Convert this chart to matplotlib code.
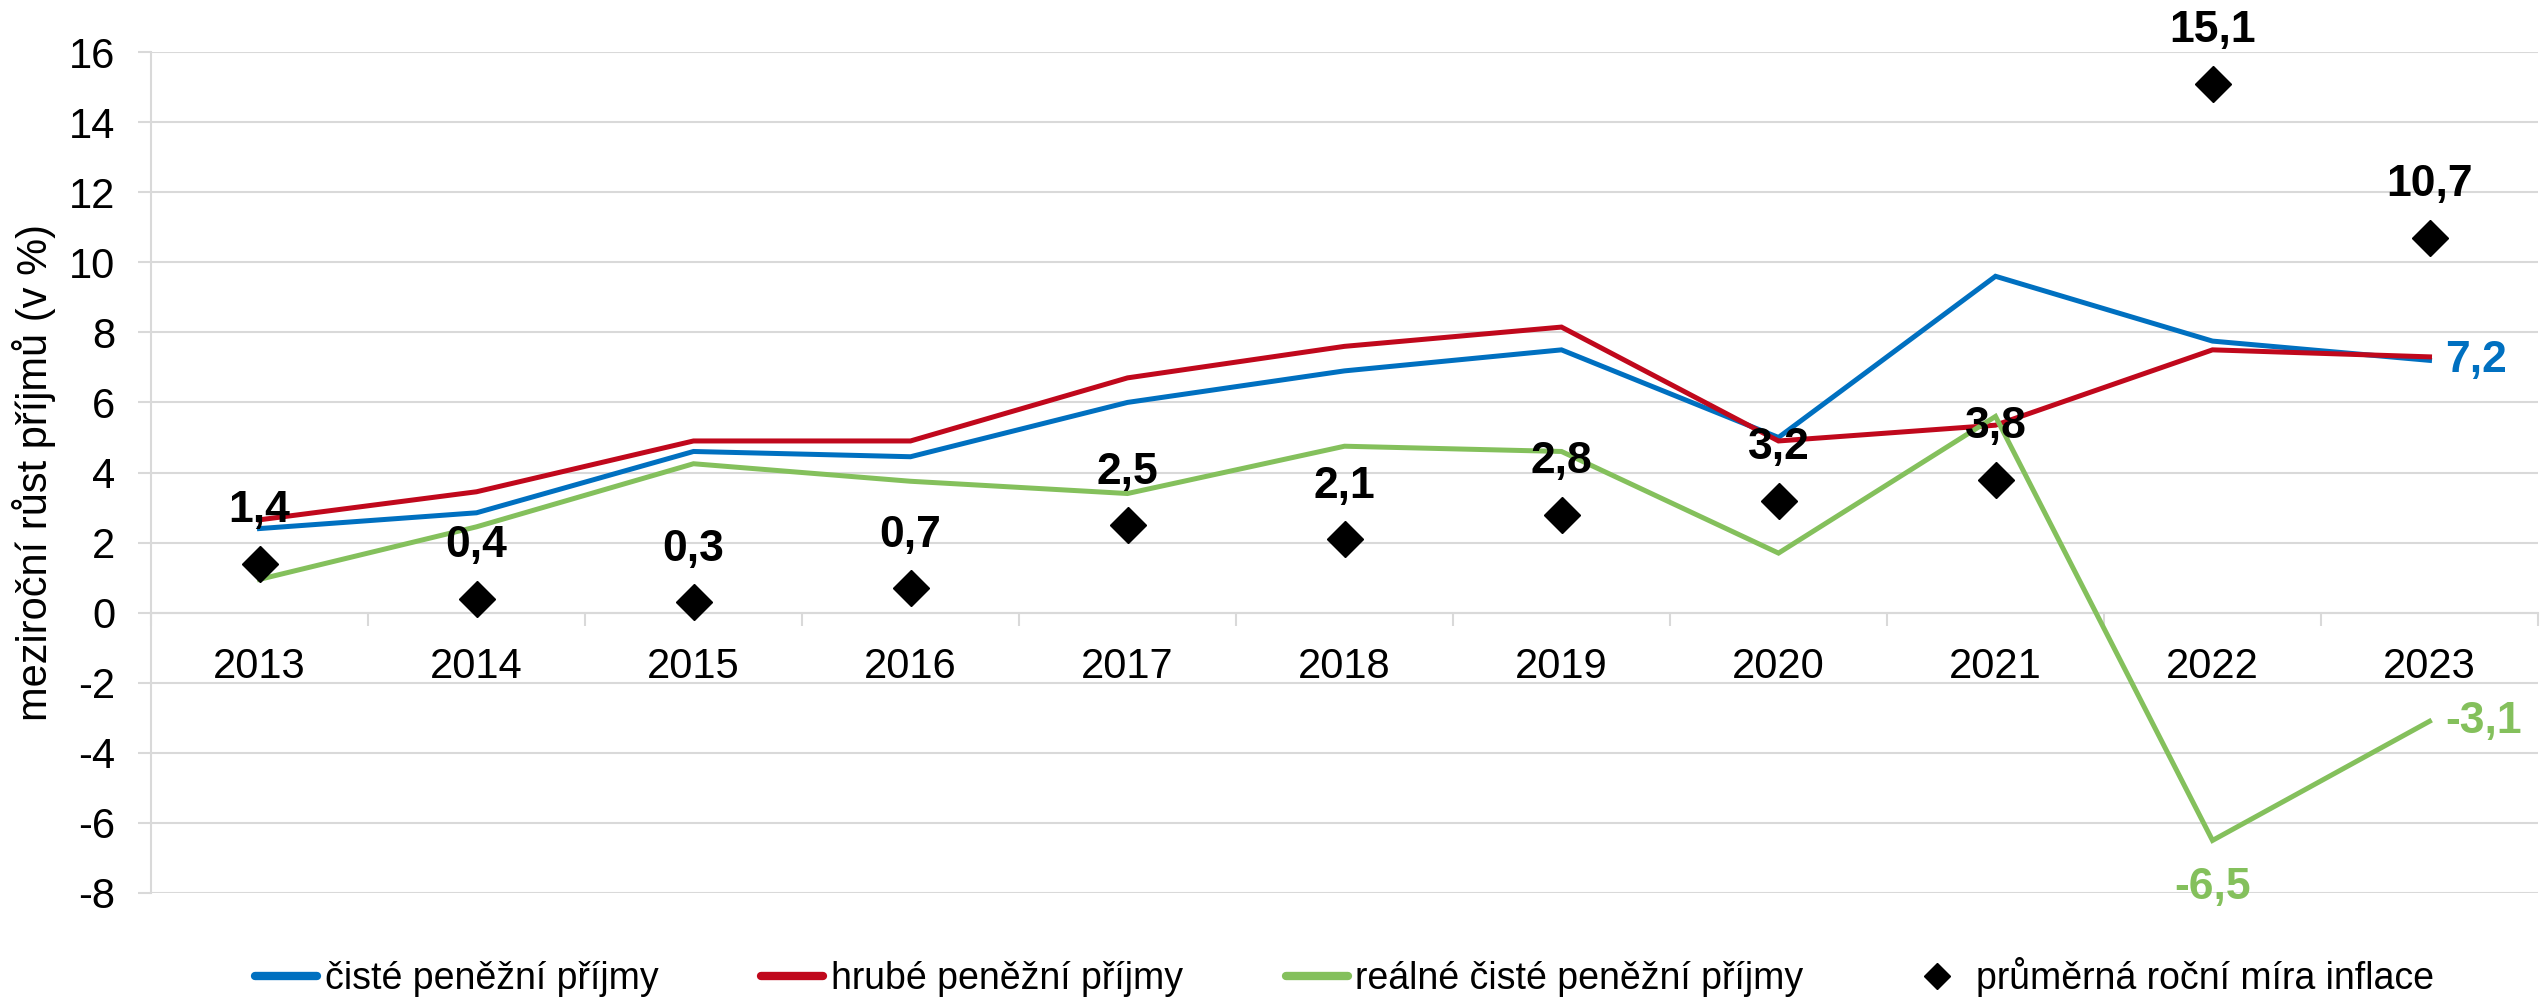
import matplotlib.pyplot as plt
from matplotlib.lines import Line2D

plt.rcParams['font.family'] = ['Liberation Sans', 'DejaVu Sans']
plt.rcParams['axes.unicode_minus'] = False

years = ["2013", "2014", "2015", "2016", "2017", "2018", "2019", "2020", "2021", "2022", "2023"]
ciste = [2.4, 2.85, 4.6, 4.45, 6.0, 6.9, 7.5, 5.0, 9.6, 7.75, 7.2]
hrube = [2.65, 3.45, 4.9, 4.9, 6.7, 7.6, 8.15, 4.9, 5.35, 7.5, 7.3]
realne = [0.95, 2.45, 4.25, 3.75, 3.4, 4.75, 4.6, 1.7, 5.6, -6.5, -3.1]
inflace = [1.4, 0.4, 0.3, 0.7, 2.5, 2.1, 2.8, 3.2, 3.8, 15.1, 10.7]

names = ["čisté peněžní příjmy", "hrubé peněžní příjmy",
         "reálné čisté peněžní příjmy", "průměrná roční míra inflace"]
blue = "#0070C0"
red = "#C0081C"
green = "#84C05C"
grid = "#D9D9D9"


def fmt(v):
    return f"{v:.1f}".replace(".", ",")


fig = plt.figure(figsize=(25.46, 10), dpi=100)
ax = fig.add_axes([151/2546, 107/1000, (2538-151)/2546, (893-52)/1000])

x = list(range(len(years)))
ax.plot(x, ciste, color=blue, lw=3.6, solid_joinstyle="miter", zorder=3)
ax.plot(x, hrube, color=red, lw=3.6, solid_joinstyle="miter", zorder=4)
ax.plot(x, realne, color=green, lw=3.6, solid_joinstyle="miter", zorder=5)
ax.plot(x, inflace, ls="none", marker="D", ms=18, color="black", zorder=6)

for i, v in enumerate(inflace):
    ax.annotate(fmt(v), (i, v), xytext=(0, 38), textcoords="offset points",
                ha="center", va="center", fontsize=32, fontweight="bold", zorder=7)

ax.annotate(fmt(ciste[-1]), (10, ciste[-1]), xytext=(11, 0), textcoords="offset points",
            ha="left", va="center", fontsize=32, fontweight="bold", color=blue)
ax.annotate(fmt(realne[-1]), (10, realne[-1]), xytext=(11, 0), textcoords="offset points",
            ha="left", va="center", fontsize=32, fontweight="bold", color=green)
ax.annotate(fmt(realne[-2]), (9, realne[-2]), xytext=(0, -34), textcoords="offset points",
            ha="center", va="center", fontsize=32, fontweight="bold", color=green)

ax.set_xlim(-0.5, 10.5)
ax.set_ylim(-8, 16)
ax.set_yticks(range(-8, 17, 2))
ax.yaxis.grid(True, color=grid, lw=1.5)
ax.set_axisbelow(True)

for s in ["top", "right"]:
    ax.spines[s].set_visible(False)
ax.spines["left"].set_color(grid)
ax.spines["left"].set_linewidth(1.5)
ax.spines["bottom"].set_position(("data", 0))
ax.spines["bottom"].set_color(grid)
ax.spines["bottom"].set_linewidth(1.5)

ax.set_xticks(x)
ax.set_xticklabels(years)
ax.set_xticks([i - 0.5 for i in range(len(years) + 1)], minor=True)
ax.tick_params(axis="x", which="major", length=0, pad=25, labelsize=30)
ax.tick_params(axis="x", which="minor", length=9, width=1.5, color=grid)
ax.tick_params(axis="y", length=9.5, width=1.5, color=grid, pad=16, labelsize=30)

ax.set_ylabel("meziroční růst příjmů (v %)", fontsize=30)
ax.yaxis.set_label_coords(-0.04, 0.5)

handles = [
    Line2D([], [], color=blue, lw=6, solid_capstyle="round"),
    Line2D([], [], color=red, lw=6, solid_capstyle="round"),
    Line2D([], [], color=green, lw=6, solid_capstyle="round"),
    Line2D([], [], ls="none", marker="D", ms=13, color="black"),
]
ax.legend(handles, names, loc="center", bbox_to_anchor=(0.5, -0.1), ncol=4,
          frameon=False, fontsize=27, handlelength=1.65, handletextpad=0.2,
          columnspacing=2.75)

fig.savefig("out.png", dpi=100)
